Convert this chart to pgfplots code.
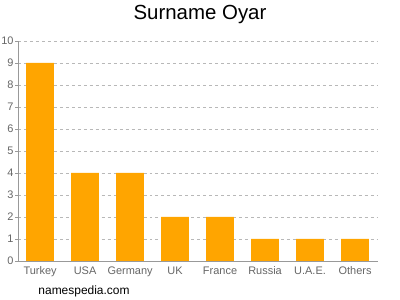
\documentclass[border=0pt]{standalone}
\usepackage{pgfplots}
\pgfplotsset{compat=1.18}
\usepackage{fontspec}
\setmainfont{Liberation Sans}
\definecolor{barorange}{HTML}{FFA500}
\definecolor{axgray}{HTML}{999999}
\definecolor{txtgray}{HTML}{666666}
\begin{document}
\begin{tikzpicture}[x=1bp,y=1bp]
\useasboundingbox (-18bp,-39bp) rectangle (382bp,261bp);
\begin{axis}[
  at={(0,0)}, anchor=south west,
  scale only axis, width=360bp, height=220bp,
  xmin=-0.49, xmax=7.51, ymin=0, ymax=10,
  ybar, bar width=0.62, bar shift=0pt,
  xtick={0,...,7},
  xticklabels={Turkey,USA,Germany,UK,France,Russia,U.A.E.,Others},
  ytick={0,...,10},
  /pgf/number format/assume math mode=true,
  tick label style={font=\fontsize{11}{12}\selectfont, text=txtgray},
  xtick style={draw=none},
  ytick style={draw=axgray},
  tick align=outside, major tick length=3bp,
  axis x line*=bottom, axis y line*=left,
  axis line style={draw=axgray},
  ymajorgrids, grid style={dashed, draw=axgray!70},
  xticklabel style={yshift=1bp},
  yticklabel style={xshift=2bp},
]
\addplot[fill=barorange, draw=none] coordinates {(0,9) (1,4) (2,4) (3,2) (4,2) (5,1) (6,1) (7,1)};
\end{axis}
\node[font=\fontsize{20.5}{24}\selectfont] at (182bp,247bp) {Surname Oyar};
\node[font=\fontsize{12}{14}\selectfont] at (66bp,-30bp) {namespedia.com};
\end{tikzpicture}
\end{document}
